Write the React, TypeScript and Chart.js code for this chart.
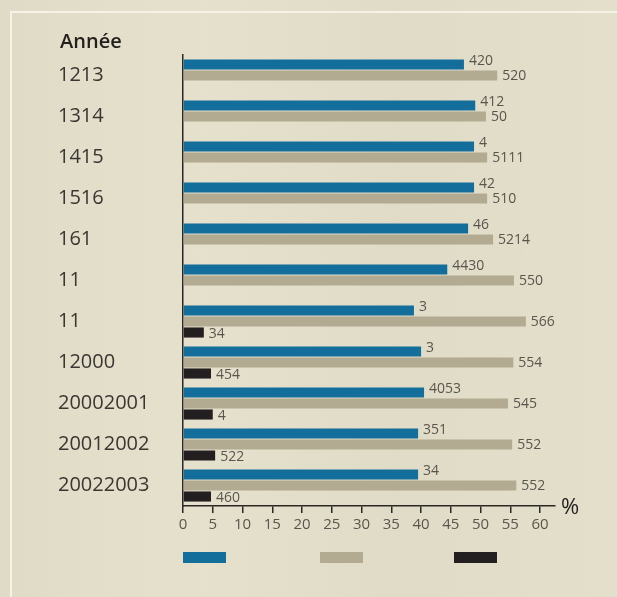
import React, { useEffect, useRef } from "react";
import { Chart, registerables } from "chart.js";

Chart.register(...registerables);

const categories = ["1213", "1314", "1415", "1516", "161", "11", "11", "12000", "20002001", "20012002", "20022003"];
const blueValues = [47.2, 49.1, 48.9, 48.9, 47.9, 44.4, 38.8, 40.0, 40.5, 39.5, 39.5];
const tanValues = [52.8, 50.9, 51.1, 51.1, 52.1, 55.6, 57.6, 55.5, 54.6, 55.3, 56.0];
const blackValues = [null, null, null, null, null, null, 3.5, 4.7, 5.0, 5.4, 4.7];
const blueLabels = ["420", "412", "4", "42", "46", "4430", "3", "3", "4053", "351", "34"];
const tanLabels = ["520", "50", "5111", "510", "5214", "550", "566", "554", "545", "552", "552"];
const blackLabels = [null, null, null, null, null, null, "34", "454", "4", "522", "460"];
const xMin = 0;
const xMax = 62.5;
const xStep = 5;
const yTitle = "Année";
const xUnit = "%";

const BLUE = "#136e9b";
const TAN = "#b2aa91";
const BLACK = "#231f20";
const FONT = "'Open Sans', 'DejaVu Sans', sans-serif";

const valueLabelPlugin = {
  id: "valueLabels",
  afterDatasetsDraw(chart: any) {
    const ctx = chart.ctx;
    const allLabels = [blueLabels, tanLabels, blackLabels];
    const offsets = [-3, 1, 2];
    ctx.save();
    ctx.font = `14px ${FONT}`;
    ctx.fillStyle = "#5a554d";
    ctx.textAlign = "left";
    ctx.textBaseline = "middle";
    chart.data.datasets.forEach((ds: any, di: number) => {
      const meta = chart.getDatasetMeta(di);
      meta.data.forEach((el: any, i: number) => {
        const txt = allLabels[di][i];
        if (txt == null || ds.data[i] == null) return;
        ctx.fillText(txt, el.x + 5, el.y + offsets[di]);
      });
    });
    ctx.restore();
  },
};

const decorPlugin = {
  id: "decor",
  afterDraw(chart: any) {
    const ctx = chart.ctx;
    const area = chart.chartArea;
    ctx.save();
    ctx.font = `600 20px ${FONT}`;
    ctx.fillStyle = "#221f1c";
    ctx.textAlign = "left";
    ctx.textBaseline = "middle";
    ctx.fillText(yTitle, 60, 42);
    ctx.font = `22px ${FONT}`;
    ctx.fillText(xUnit, area.right + 6, area.bottom + 2);
    const colors = chart.data.datasets.map((d: any) => d.backgroundColor);
    const xs = [183, 320, 454];
    colors.forEach((c: string, i: number) => {
      ctx.fillStyle = c;
      ctx.fillRect(xs[i], 552, 43, 11);
    });
    ctx.restore();
  },
};

export default function App() {
  const ref = useRef<HTMLCanvasElement>(null);
  useEffect(() => {
    if (!ref.current) return;
    const chart = new Chart(ref.current, {
      type: "bar",
      data: {
        labels: categories,
        datasets: [
          { label: "", data: blueValues, backgroundColor: BLUE },
          { label: "", data: tanValues, backgroundColor: TAN },
          { label: "", data: blackValues as any, backgroundColor: BLACK },
        ],
      },
      options: {
        indexAxis: "y",
        responsive: false,
        animation: false,
        categoryPercentage: 0.805,
        barPercentage: 0.92,
        layout: { padding: { left: 58, top: 55, right: 62, bottom: 51 } },
        plugins: { legend: { display: false }, tooltip: { enabled: false } },
        scales: {
          x: {
            type: "linear",
            min: xMin,
            max: xMax,
            grid: { drawOnChartArea: false, drawTicks: true, tickLength: 7, color: "#2a2724", lineWidth: 1.5 },
            border: { display: true, color: "#2a2724", width: 1.5 },
            ticks: { stepSize: xStep, includeBounds: false, color: "#5a554d", font: { family: FONT, size: 15 }, padding: 3, maxRotation: 0 },
            afterFit(scale: any) { scale.height = 40; },
          } as any,
          y: {
            type: "category",
            grid: { display: false },
            border: { display: true, color: "#2a2724", width: 1.5 },
            ticks: { crossAlign: "far", color: "#3a3632", font: { family: FONT, size: 20 }, padding: 0 },
            afterFit(scale: any) { scale.width = 125; },
          } as any,
        },
      },
      plugins: [valueLabelPlugin, decorPlugin],
    });
    return () => chart.destroy();
  }, []);

  return (
    <div
      style={{
        position: "absolute",
        left: 0,
        top: 0,
        width: 617,
        height: 597,
        overflow: "hidden",
        background:
          "linear-gradient(90deg, rgba(0,0,0,0.02) 0px, rgba(0,0,0,0) 120px, rgba(255,255,255,0.05) 200px, rgba(0,0,0,0.015) 400px, rgba(0,0,0,0) 617px), #e4dfca",
      }}
    >
      <div
        style={{
          position: "absolute",
          left: 10,
          top: 11,
          width: 640,
          height: 640,
          borderLeft: "2px solid #f5f2e8",
          borderTop: "2px solid #f5f2e8",
          boxSizing: "border-box",
        }}
      />
      <canvas ref={ref} width={617} height={597} style={{ position: "absolute", left: 0, top: 0, width: 617, height: 597 }} />
    </div>
  );
}
